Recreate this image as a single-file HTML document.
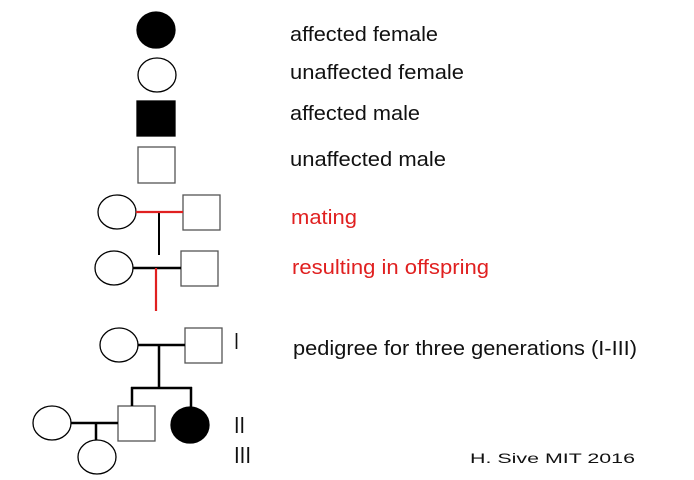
<!DOCTYPE html>
<html><head><meta charset="utf-8"><style>html,body{margin:0;padding:0;background:#fff}svg{display:block}</style></head>
<body>
<svg width="694" height="480" xmlns="http://www.w3.org/2000/svg" font-family="Liberation Sans, sans-serif">
<rect width="694" height="480" fill="#fff"/>
<g stroke="#000" stroke-width="1.3" fill="#fff">
<ellipse cx="156" cy="30" rx="19" ry="18" fill="#000"/>
<ellipse cx="157" cy="75" rx="19" ry="17"/>
<rect x="137" y="101" width="38" height="35" fill="#000"/>
<rect x="138" y="147" width="37" height="36" stroke="#555"/>
<ellipse cx="117" cy="212" rx="19" ry="17"/>
<rect x="183" y="195" width="37" height="35" stroke="#555"/>
<ellipse cx="114" cy="268" rx="19" ry="17"/>
<rect x="181" y="251" width="37" height="35" stroke="#555"/>
<ellipse cx="119" cy="345" rx="19" ry="17"/>
<rect x="185" y="328" width="37" height="35" stroke="#555"/>
<ellipse cx="52" cy="423" rx="19" ry="17"/>
<rect x="118" y="406" width="37" height="35" stroke="#555"/>
<ellipse cx="190" cy="425" rx="19" ry="18" fill="#000"/>
<ellipse cx="97" cy="457" rx="19" ry="17"/>
</g>
<g stroke="#000" stroke-width="2.5" fill="none">
<line x1="159" y1="212" x2="159" y2="255" stroke-width="2"/>
<line x1="133" y1="268" x2="181" y2="268"/>
<line x1="138" y1="345" x2="185" y2="345"/>
<line x1="159" y1="345" x2="159" y2="388"/>
<line x1="131" y1="388" x2="192" y2="388"/>
<line x1="132" y1="387" x2="132" y2="406"/>
<line x1="191" y1="387" x2="191" y2="407"/>
<line x1="71" y1="423" x2="118" y2="423"/>
<line x1="96" y1="423" x2="96" y2="440"/>
</g>
<g stroke="#e02020" stroke-width="2.2">
<line x1="136" y1="212" x2="183" y2="212"/>
<line x1="156" y1="268" x2="156" y2="311"/>
</g>
<g font-size="20" fill="#111">
<text x="290" y="41" textLength="148" lengthAdjust="spacingAndGlyphs">affected female</text>
<text x="290" y="79" textLength="174" lengthAdjust="spacingAndGlyphs">unaffected female</text>
<text x="290" y="120" textLength="130" lengthAdjust="spacingAndGlyphs">affected male</text>
<text x="290" y="166" textLength="156" lengthAdjust="spacingAndGlyphs">unaffected male</text>
<text x="291" y="224" fill="#e02020" textLength="66" lengthAdjust="spacingAndGlyphs">mating</text>
<text x="292" y="274" fill="#e02020" textLength="197" lengthAdjust="spacingAndGlyphs">resulting in offspring</text>
<text x="293" y="355" textLength="344" lengthAdjust="spacingAndGlyphs">pedigree for three generations (I-III)</text>
<text x="234" y="349" font-size="23" textLength="5" lengthAdjust="spacingAndGlyphs">I</text>
<text x="234" y="433" font-size="23" textLength="11" lengthAdjust="spacingAndGlyphs">II</text>
<text x="234" y="463" font-size="23" textLength="17" lengthAdjust="spacingAndGlyphs">III</text>
<text x="470" y="463" font-size="14" textLength="165" lengthAdjust="spacingAndGlyphs">H. Sive MIT 2016</text>
</g>
</svg>
</body></html>
